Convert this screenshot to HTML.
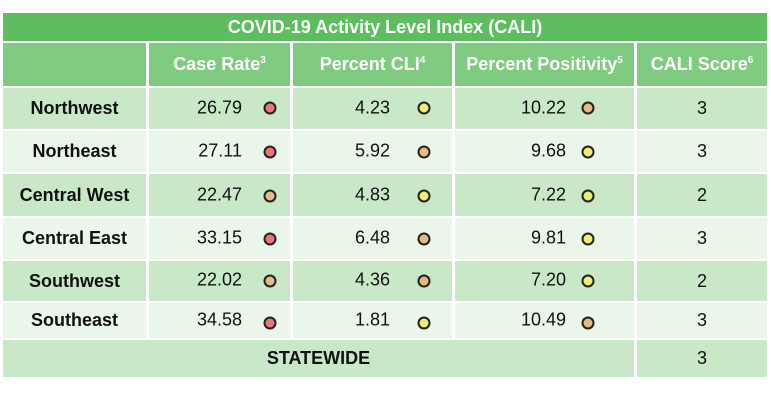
<!DOCTYPE html>
<html><head><meta charset="utf-8"><style>
body{margin:0;width:771px;height:405px;background:#fff;position:relative;font-family:"Liberation Sans",Arial,sans-serif;overflow:hidden}
.c{position:absolute;display:flex;align-items:center;justify-content:center;font-size:18px;color:#111}
.t{background:#5dbd5f;color:#fff;font-weight:bold;font-size:18px}
.h{background:#7fcb80;color:#fff;font-weight:bold;font-size:18px}
.o{background:#c9e8c8}
.e{background:#eaf6e9}
.b{font-weight:bold}
sup{font-size:10px;position:relative;top:-4px;vertical-align:top}
.n{position:absolute;font-size:18px;color:#111;text-align:right;width:80px;transform:translateY(-50%)}
.d{position:absolute;width:9px;height:9px;border:2px solid #222;border-radius:50%;transform:translate(-50%,-50%)}
.r{background:#e87878}.y{background:#eded78}.g{background:#e9b883}
</style></head><body>
<div class="c t" style="left:3px;top:13px;width:764px;height:28px">COVID-19 Activity Level Index (CALI)</div>
<div class="c h" style="left:3px;top:43px;width:143px;height:43px"></div>
<div class="c h" style="left:149px;top:43px;width:141px;height:43px">Case Rate<sup>3</sup></div>
<div class="c h" style="left:293px;top:43px;width:159px;height:43px">Percent CLI<sup>4</sup></div>
<div class="c h" style="left:455px;top:43px;width:179px;height:43px">Percent Positivity<sup>5</sup></div>
<div class="c h" style="left:637px;top:43px;width:130px;height:43px">CALI Score<sup>6</sup></div>

<div class="c o b" style="left:3px;top:88px;width:143px;height:41px">Northwest</div>
<div class="c o" style="left:149px;top:88px;width:141px;height:41px"></div>
<div class="c o" style="left:293px;top:88px;width:159px;height:41px"></div>
<div class="c o" style="left:455px;top:88px;width:179px;height:41px"></div>
<div class="c o" style="left:637px;top:88px;width:130px;height:41px">3</div>

<div class="c e b" style="left:3px;top:131px;width:143px;height:41px">Northeast</div>
<div class="c e" style="left:149px;top:131px;width:141px;height:41px"></div>
<div class="c e" style="left:293px;top:131px;width:159px;height:41px"></div>
<div class="c e" style="left:455px;top:131px;width:179px;height:41px"></div>
<div class="c e" style="left:637px;top:131px;width:130px;height:41px">3</div>

<div class="c o b" style="left:3px;top:174px;width:143px;height:42px">Central West</div>
<div class="c o" style="left:149px;top:174px;width:141px;height:42px"></div>
<div class="c o" style="left:293px;top:174px;width:159px;height:42px"></div>
<div class="c o" style="left:455px;top:174px;width:179px;height:42px"></div>
<div class="c o" style="left:637px;top:174px;width:130px;height:42px">2</div>

<div class="c e b" style="left:3px;top:218px;width:143px;height:41px">Central East</div>
<div class="c e" style="left:149px;top:218px;width:141px;height:41px"></div>
<div class="c e" style="left:293px;top:218px;width:159px;height:41px"></div>
<div class="c e" style="left:455px;top:218px;width:179px;height:41px"></div>
<div class="c e" style="left:637px;top:218px;width:130px;height:41px">3</div>

<div class="c o b" style="left:3px;top:261px;width:143px;height:40px">Southwest</div>
<div class="c o" style="left:149px;top:261px;width:141px;height:40px"></div>
<div class="c o" style="left:293px;top:261px;width:159px;height:40px"></div>
<div class="c o" style="left:455px;top:261px;width:179px;height:40px"></div>
<div class="c o" style="left:637px;top:261px;width:130px;height:40px">2</div>

<div class="c e b" style="left:3px;top:303px;width:143px;height:35px">Southeast</div>
<div class="c e" style="left:149px;top:303px;width:141px;height:35px"></div>
<div class="c e" style="left:293px;top:303px;width:159px;height:35px"></div>
<div class="c e" style="left:455px;top:303px;width:179px;height:35px"></div>
<div class="c e" style="left:637px;top:303px;width:130px;height:35px">3</div>

<div class="c o b" style="left:3px;top:340px;width:631px;height:37px">STATEWIDE</div>
<div class="c o" style="left:637px;top:340px;width:130px;height:37px">3</div>

<div class="n" style="left:162px;top:108px">26.79</div><div class="d r" style="left:270px;top:108px"></div>
<div class="n" style="left:310px;top:108px">4.23</div><div class="d y" style="left:424px;top:108px"></div>
<div class="n" style="left:486px;top:108px">10.22</div><div class="d g" style="left:588px;top:108px"></div>

<div class="n" style="left:162px;top:151px">27.11</div><div class="d r" style="left:270px;top:152px"></div>
<div class="n" style="left:310px;top:151px">5.92</div><div class="d g" style="left:424px;top:152px"></div>
<div class="n" style="left:486px;top:151px">9.68</div><div class="d y" style="left:588px;top:152px"></div>

<div class="n" style="left:162px;top:195px">22.47</div><div class="d g" style="left:270px;top:196px"></div>
<div class="n" style="left:310px;top:195px">4.83</div><div class="d y" style="left:424px;top:196px"></div>
<div class="n" style="left:486px;top:195px">7.22</div><div class="d y" style="left:588px;top:196px"></div>

<div class="n" style="left:162px;top:238px">33.15</div><div class="d r" style="left:270px;top:239px"></div>
<div class="n" style="left:310px;top:238px">6.48</div><div class="d g" style="left:424px;top:239px"></div>
<div class="n" style="left:486px;top:238px">9.81</div><div class="d y" style="left:588px;top:239px"></div>

<div class="n" style="left:162px;top:280px">22.02</div><div class="d g" style="left:270px;top:281px"></div>
<div class="n" style="left:310px;top:280px">4.36</div><div class="d g" style="left:424px;top:281px"></div>
<div class="n" style="left:486px;top:280px">7.20</div><div class="d y" style="left:588px;top:281px"></div>

<div class="n" style="left:162px;top:320px">34.58</div><div class="d r" style="left:270px;top:323px"></div>
<div class="n" style="left:310px;top:320px">1.81</div><div class="d y" style="left:424px;top:323px"></div>
<div class="n" style="left:486px;top:320px">10.49</div><div class="d g" style="left:588px;top:323px"></div>
</body></html>
